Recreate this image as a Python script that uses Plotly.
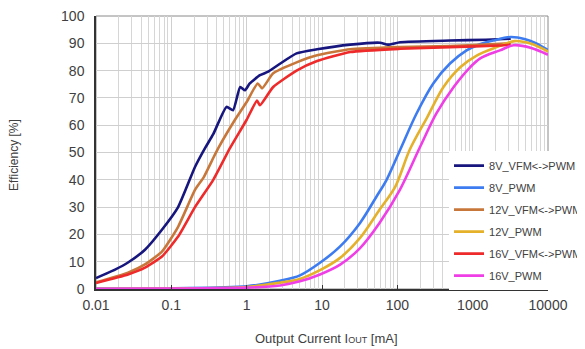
import plotly.graph_objects as go

# ---- data ----
x_8v_vfm = [0.01, 0.0179, 0.0266, 0.0447, 0.075, 0.123, 0.206, 0.28, 0.36, 0.54, 0.66, 0.82, 0.95, 1.1, 1.5, 1.9, 2.8, 4.6, 8.6, 23.7, 59, 75, 109, 500, 1500, 3200]
y_8v_vfm = [4.0, 7.1, 9.7, 14.4, 21.7, 30.0, 44.7, 51.6, 56.7, 66.7, 65.5, 74.0, 72.8, 75.3, 78.3, 79.5, 82.6, 86.3, 87.8, 89.5, 90.2, 89.5, 90.4, 91.0, 91.3, 91.7]

x_8v_pwm = [0.01, 0.1, 1, 2.77, 5.1, 9.4, 17.4, 32, 53, 72, 109, 180, 300, 500, 830, 1130, 1870, 3200, 5000, 7000, 10000]
y_8v_pwm = [0.2, 0.3, 1.0, 3.0, 5.0, 9.6, 15.6, 24.2, 33.9, 40.0, 51.0, 64.3, 75.3, 82.6, 87.4, 89.2, 91.0, 92.3, 91.5, 90.0, 87.5]

x_12v_vfm = [0.01, 0.0266, 0.0447, 0.075, 0.123, 0.206, 0.27, 0.36, 0.42, 0.7, 1.0, 1.4, 1.6, 2.25, 4.6, 8.6, 23.7, 109, 500, 2300, 3200]
y_12v_vfm = [2.4, 6.0, 9.0, 13.7, 22.8, 36.3, 41.0, 48.0, 51.6, 62.0, 68.5, 75.3, 73.5, 79.0, 83.0, 85.6, 87.8, 88.6, 89.0, 89.8, 90.0]

x_12v_pwm = [0.01, 0.1, 1, 2.77, 5.1, 9.4, 17.4, 32, 58, 94, 146, 250, 410, 690, 1130, 2050, 3600, 6000, 10000]
y_12v_pwm = [0.1, 0.2, 0.7, 2.3, 3.7, 6.9, 11.4, 18.7, 29.0, 37.5, 51.0, 63.0, 74.0, 81.3, 85.5, 88.5, 90.8, 89.8, 87.0]

x_16v_vfm = [0.01, 0.0266, 0.0447, 0.075, 0.123, 0.206, 0.36, 0.6, 1.0, 1.37, 1.5, 2.25, 4.6, 8.6, 23.7, 109, 500, 2300, 3200]
y_16v_vfm = [2.2, 5.3, 7.8, 11.9, 19.2, 30.0, 40.0, 51.6, 62.0, 69.0, 67.3, 74.0, 80.0, 83.5, 86.8, 88.0, 88.6, 89.2, 89.5]

x_16v_pwm = [0.01, 0.1, 1, 2.77, 5.1, 9.4, 17.4, 32, 58, 108, 200, 330, 560, 930, 1260, 2300, 3500, 6000, 10000]
y_16v_pwm = [0.1, 0.15, 0.5, 1.3, 2.8, 5.3, 8.9, 15.0, 24.2, 36.3, 52.0, 64.3, 74.0, 81.3, 84.5, 87.4, 89.3, 88.3, 85.8]

x_tick_vals = [0.01, 0.1, 1, 10, 100, 1000, 10000]
x_tick_text = ["0.01", "0.1", "1", "10", "100", "1000", "10000"]
y_tick_vals = [0, 10, 20, 30, 40, 50, 60, 70, 80, 90, 100]

series = [
    ("8V_VFM&lt;-&gt;PWM", x_8v_vfm, y_8v_vfm, "#16167e", 0.5),
    ("8V_PWM", x_8v_pwm, y_8v_pwm, "#3d7cf0", 0.9),
    ("12V_VFM&lt;-&gt;PWM", x_12v_vfm, y_12v_vfm, "#c8773a", 0.5),
    ("12V_PWM", x_12v_pwm, y_12v_pwm, "#e5b02a", 0.9),
    ("16V_VFM&lt;-&gt;PWM", x_16v_vfm, y_16v_vfm, "#ee2a2a", 0.5),
    ("16V_PWM", x_16v_pwm, y_16v_pwm, "#f03ee6", 0.9),
]

FONT = "Liberation Sans, Arial, sans-serif"

fig = go.Figure()
for i, (name, xs, ys, col, sm) in enumerate(series):
    fig.add_trace(go.Scatter(
        x=xs, y=ys, mode="lines", name=name,
        line=dict(color=col, width=2.6, shape="spline", smoothing=sm),
        legendgroup=f"g{i}",
    ))

minor_vals = [m * 10 ** e for e in range(-2, 4) for m in range(2, 10)]

# page body has an 8px default margin; size the figure so the plot area lands where the reference has it
fig.update_layout(
    width=577, height=341,
    margin=dict(l=88, r=37, t=8, b=60, autoexpand=False),
    paper_bgcolor="white", plot_bgcolor="white",
    font=dict(family=FONT, color="#404040"),
    showlegend=True,
    legend=dict(
        x=0.781, y=0.505, xanchor="left", yanchor="top",
        bgcolor="white", borderwidth=0,
        font=dict(size=11, color="#404040", family=FONT),
        tracegroupgap=3, itemwidth=30,
    ),
    xaxis=dict(
        type="log", range=[-2, 4],
        tickvals=x_tick_vals, ticktext=x_tick_text,
        tickfont=dict(size=14, color="#404040"),
        ticklabelstandoff=2,
        ticklabeloverflow="allow",
        showgrid=True, gridcolor="#cfcfcf", gridwidth=1,
        minor=dict(tickvals=minor_vals, showgrid=True, gridcolor="#d6d6d6", gridwidth=1, ticks=""),
        showline=True, linecolor="#333333", linewidth=1.5,
        ticks="inside", ticklen=4, tickcolor="#333333",
        zeroline=False,
    ),
    yaxis=dict(
        range=[0, 100], tickvals=y_tick_vals,
        tickfont=dict(size=14, color="#404040"),
        ticklabelstandoff=7,
        ticklabeloverflow="allow",
        showgrid=True, gridcolor="#cfcfcf", gridwidth=1,
        showline=True, linecolor="#333333", linewidth=1.5,
        ticks="", zeroline=False,
    ),
    shapes=[dict(type="rect", xref="paper", yref="paper", x0=0, x1=1, y0=0, y1=1,
                 line=dict(color="#8a8a8a", width=1), layer="below")],
    annotations=[
        dict(text="Efficiency [%]", xref="paper", yref="paper",
             x=-0.182, y=0.49, xanchor="center", yanchor="middle",
             textangle=-90, showarrow=False, font=dict(size=12, color="#404040")),
        dict(text="Output Current I<span style='font-size:9px'>OUT</span> [mA]",
             xref="paper", yref="paper", x=0.51, y=-0.18,
             xanchor="center", yanchor="middle", showarrow=False,
             font=dict(size=13, color="#404040")),
    ],
)

fig.write_html("out.html")
